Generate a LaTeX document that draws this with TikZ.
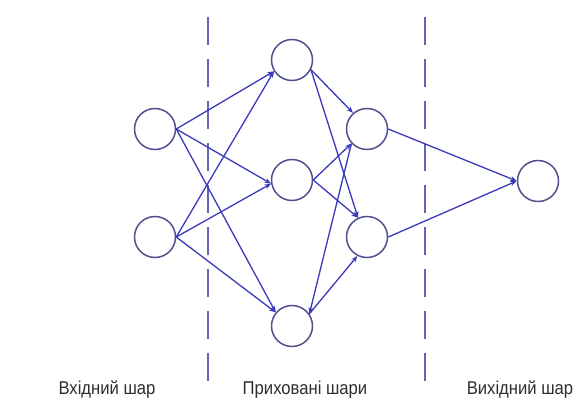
\documentclass[tikz,border=0pt]{standalone}
\usepackage{fontspec}
\setmainfont{Liberation Sans}
\newfontfamily\labfont[FakeStretch=0.9]{Liberation Sans}
\usetikzlibrary{arrows.meta}
\definecolor{edgeblue}{RGB}{58,58,188}
\definecolor{ringblue}{RGB}{80,80,145}
\definecolor{dashblue}{RGB}{100,100,185}
\begin{document}
\begin{tikzpicture}[x=1pt,y=-1pt,
  neuron/.style={circle,draw=ringblue,line width=1.5pt,minimum size=41pt,inner sep=0pt},
  link/.style={draw=edgeblue,line width=1.3pt,-{Stealth[length=6.5pt,width=5pt]}},
  divider/.style={draw=dashblue,line width=1.7pt,dash pattern=on 28pt off 14pt},
  lab/.style={font=\labfont\fontsize{18.5}{22}\selectfont,text=black!82,anchor=base,inner sep=0pt}]
\useasboundingbox[fill=white] (0,0) rectangle (588,401);
% nodes
\node[neuron] (I1) at (155,129) {};
\node[neuron] (I2) at (155,237) {};
\node[neuron] (H1) at (292,60) {};
\node[neuron] (H2) at (292,180) {};
\node[neuron] (H3) at (292,326) {};
\node[neuron] (O1) at (367,129) {};
\node[neuron] (O2) at (367,237) {};
\node[neuron] (Y) at (538,181) {};
% dividers
\coordinate (d1t) at (208,17);
\coordinate (d1b) at (208,385);
\coordinate (d2t) at (425,17);
\coordinate (d2b) at (425,385);
\draw[divider] (d1t) -- (d1b);
\draw[divider] (d2t) -- (d2b);
% input -> hidden 1
\foreach \s in {I1,I2}{
  \draw[link] (\s.east) -- (H1.212);
  \draw[link] (\s.east) -- (H2.190);
  \draw[link] (\s.east) -- (H3.140);
}
% hidden 1 -> hidden 2
\draw[link] (H1.-27) -- (O1.131);
\draw[link] (H1.-27) -- (O2.115);
\draw[link] (H2.east) -- (O1.223);
\draw[link] (H2.east) -- (O2.115);
\draw[link] (H3.35) -- (O2.243);
\draw[link] (O1.223) -- (H3.35);
% hidden 2 -> output
\draw[link] (O1.east) -- (Y.west);
\draw[link] (O2.east) -- (Y.west);
% labels
\node[lab] (L1) at (107,394) {Вхідний шар};
\node[lab] (L2) at (305,394) {Приховані шари};
\node[lab] (L3) at (520,394) {Вихідний шар};
\end{tikzpicture}
\end{document}
